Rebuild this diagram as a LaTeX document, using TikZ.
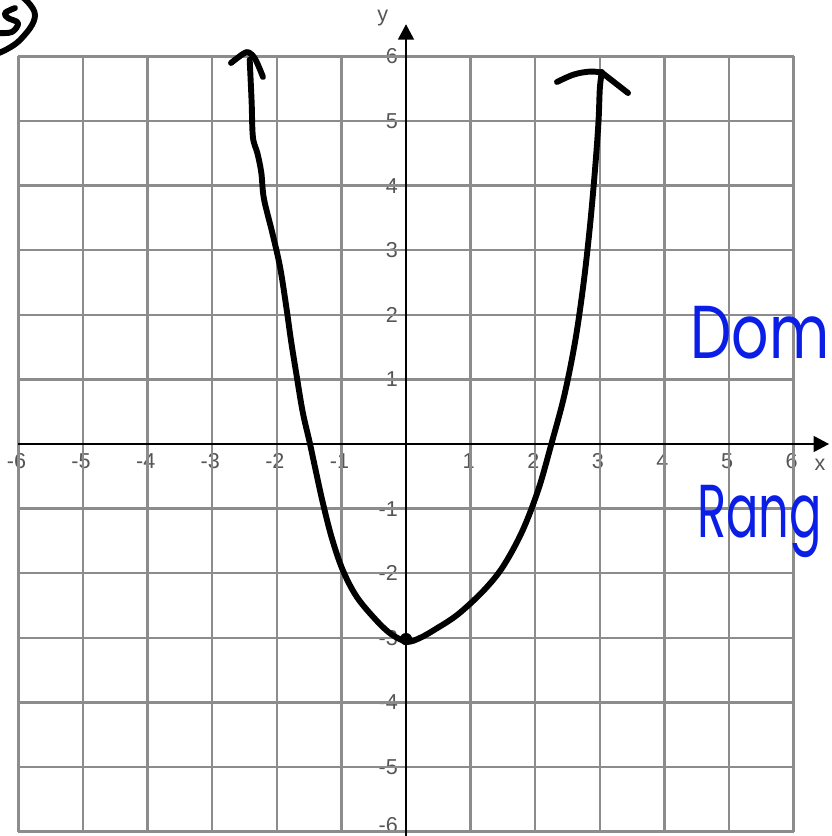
\documentclass[tikz,border=0pt]{standalone}
\usepackage{fontspec}
\setmainfont{Liberation Sans}
\newfontfamily\handfont{Poppins}
\usepackage{xcolor}
\usetikzlibrary{arrows.meta}

\definecolor{inkblue}{RGB}{10,30,230}
\definecolor{gridgray}{RGB}{140,140,140}
\definecolor{labelgray}{RGB}{85,85,85}

\tikzset{
  gridline/.style={gridgray, line width=1.1pt},
  axisline/.style={black, line width=1.3pt, -{Triangle[length=2.4mm,width=2.4mm]}},
  ticklabel/.style={text=labelgray, font=\fontsize{9.5}{10}\selectfont, inner sep=0pt},
  pen/.style={black, line width=2.6pt, line cap=round, line join=round},
  bluepen/.style={text=inkblue, font=\handfont\fontsize{33}{36}\selectfont, inner sep=0pt}
}

\begin{document}
\begin{tikzpicture}
  \useasboundingbox (-6.285,-6.068) rectangle (6.579,6.873);
  % tick labels sit under the grid
  \foreach \x in {-6,-5,-4,-3,-2,-1,1,2,3,4,5,6}
    \node[ticklabel] (xl\x) at (\x-0.03,-0.27) {\x};
  \foreach \y in {-5,-4,-3,-2,-1,1,2,3,4,5,6}
    \node[ticklabel, anchor=east] (yl\y) at (-0.12,\y) {\y};
  \node[ticklabel, anchor=east] (yl-6) at (-0.12,-5.9) {-6};
  % grid and axes
  \draw[gridline] (-6,-6) grid (6,6);
  \coordinate (xend) at (6.55,0);
  \coordinate (yend) at (0,6.5);
  \draw[axisline] (-6,0) -- (xend);
  \draw[axisline] (0,-6.1) -- (yend);
  \node[ticklabel] (xlab) at (6.41,-0.32) {x};
  \node[ticklabel] (ylab) at (-0.36,6.59) {y};
  % the hand drawn parabola
  \draw[pen] plot[smooth, tension=0.55] coordinates {
    (-2.42,5.95) (-2.39,5.30) (-2.37,4.75) (-2.30,4.50) (-2.24,4.20)
    (-2.20,3.80) (-2.07,3.27) (-1.95,2.74) (-1.85,2.10) (-1.78,1.60)
    (-1.70,1.10) (-1.60,0.50) (-1.49,0.02) (-1.40,-0.40) (-1.29,-0.90)
    (-1.15,-1.45) (-0.98,-1.95) (-0.76,-2.37) (-0.45,-2.74) (-0.22,-2.95)
    (0.02,-3.06) (0.22,-3.00) (0.45,-2.87) (0.80,-2.64) (1.20,-2.27) (1.50,-1.90)
    (1.80,-1.35) (2.05,-0.70) (2.25,0.00) (2.45,0.75) (2.62,1.60)
    (2.75,2.50) (2.85,3.40) (2.93,4.30) (2.98,5.00) (3.00,5.50) (3.03,5.76)};
  \fill (0,-3.02) circle (0.095);
  % arrow ends
  \draw[pen] plot[smooth, tension=0.6] coordinates {
    (-2.709,5.898) (-2.52,6.04) (-2.43,6.06) (-2.33,5.95) (-2.214,5.681)};
  \draw[pen] plot[smooth, tension=0.6] coordinates {
    (2.337,5.604) (2.60,5.72) (2.85,5.765) (3.02,5.75)};
  \draw[pen] (3.03,5.75) -- (3.437,5.433);
  % problem number
  \draw[pen] plot[smooth, tension=0.7] coordinates {
    (-5.975,6.95) (-5.743,6.641) (-5.975,6.254) (-6.30,6.053)};
  \draw[pen] plot[smooth, tension=0.6] coordinates {
    (-6.053,6.749) (-6.207,6.672) (-6.161,6.594) (-6.006,6.517) (-6.099,6.378) (-6.30,6.362)};
  % blue notes
  \node[bluepen, anchor=base west] (dom) at (4.396,1.331) {\scalebox{0.78}[1]{Dom}};
  \node[bluepen, anchor=base west] (rang) at (4.50,-1.455) {\scalebox{0.64}[1]{Rang}};
\end{tikzpicture}
\end{document}
